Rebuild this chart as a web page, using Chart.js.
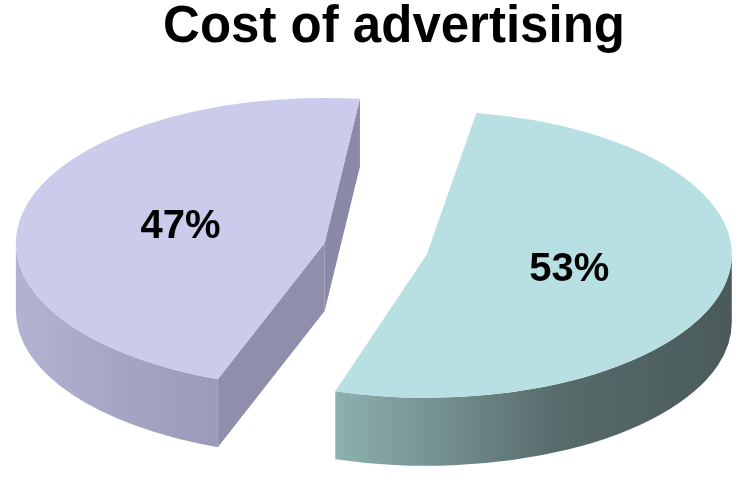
<!DOCTYPE html>
<html>
<head>
<meta charset="utf-8">
<title>Cost of advertising</title>
<script src="https://cdn.jsdelivr.net/npm/chart.js@4.4.1/dist/chart.umd.min.js"></script>
<style>
  html, body { margin: 0; padding: 0; background: #ffffff; }
  #wrap { width: 741px; height: 477px; }
</style>
</head>
<body>
<div id="wrap"><canvas id="myChart" width="741" height="477"></canvas></div>
<script>
// slices, clockwise from the top
const labels = ['Advertising', 'Other costs'];
const shares = [53, 47];

// top faces, outer walls and cut faces of each slice
const topColors = ['#b8dfe1', '#cbcbeb'];
const wallColors = [['#8db1af', '#586c6c', '#4a5a5a'], ['#b2b2d2', '#a4a4c4', '#9a9aba']];
const faceColors = [['#4d5e5e', '#4d5e5e'], ['#8f8fab', '#8a8aa8']];

const TILT = 0.47;   // vertical squash of the pie plane
const DEPTH = 68;    // thickness of the pie
const SHIFT_X = -11; // pie sits a little left of the title

// geometry of an arc as ArcElement.draw lays it out:
// offset is used as offset/4, the radius grows and the angles shrink a little
function arcGeom(arc) {
    const off = (arc.options.offset || 0) / 4;
    const mid = (arc.startAngle + arc.endAngle) / 2;
    const alpha = arc.endAngle - arc.startAngle;
    const radOff = off * (1 - Math.sin(Math.min(Math.PI, alpha)));
    const r = arc.outerRadius + radOff;
    const beta = Math.max(0.001, alpha * r - radOff / Math.PI) / r;
    const trim = (alpha - beta) / 2;
    return {
        x: arc.x + Math.cos(mid) * off,
        y: arc.y + Math.sin(mid) * off,
        r: r,
        a0: arc.startAngle + trim,
        a1: arc.endAngle - trim,
        mid: mid
    };
}

function toScreen(x, y, cy) {
    return [x + SHIFT_X, cy + (y - cy) * TILT];
}

// parts of [a0, a1] that face the viewer (lower half of the ellipse)
function frontRanges(a0, a1) {
    const out = [];
    for (let n = -1; n <= 1; n++) {
        const lo = Math.max(a0, n * 2 * Math.PI);
        const hi = Math.min(a1, n * 2 * Math.PI + Math.PI);
        if (hi > lo) out.push([lo, hi]);
    }
    return out;
}

const pie3d = {
    id: 'pie3d',
    beforeDatasetsDraw: (chart) => {
        const ctx = chart.ctx;
        const arcs = chart.getDatasetMeta(0).data;
        const cy = arcs[0].y;
        // draw from back (left slice) to front
        const order = arcs.map((a, i) => i).reverse();
        ctx.save();
        for (const i of order) {
            const g = arcGeom(arcs[i]);
            const [sx, sy] = toScreen(g.x, g.y, cy);
            const rx = g.r, ry = g.r * TILT;

            // radial cut faces
            const faces = [];
            if (Math.cos(g.a0) < 0) faces.push([g.a0, faceColors[i][0]]);
            if (Math.cos(g.a1) > 0) faces.push([g.a1, faceColors[i][1]]);
            for (const [ang, col] of faces) {
                const ex = sx + rx * Math.cos(ang), ey = sy + ry * Math.sin(ang);
                ctx.beginPath();
                ctx.moveTo(sx, sy);
                ctx.lineTo(ex, ey);
                ctx.lineTo(ex, ey + DEPTH);
                ctx.lineTo(sx, sy + DEPTH);
                ctx.closePath();
                ctx.fillStyle = col;
                ctx.fill();
            }

            // outer wall
            for (const [lo, hi] of frontRanges(g.a0, g.a1)) {
                const xl = sx + rx * Math.cos(hi), xr = sx + rx * Math.cos(lo);
                const grad = ctx.createLinearGradient(xl, 0, xr, 0);
                grad.addColorStop(0, wallColors[i][0]);
                grad.addColorStop(0.55, wallColors[i][1]);
                grad.addColorStop(1, wallColors[i][2]);
                ctx.beginPath();
                ctx.ellipse(sx, sy, rx, ry, 0, lo, hi);
                ctx.ellipse(sx, sy + DEPTH, rx, ry, 0, hi, lo, true);
                ctx.closePath();
                ctx.fillStyle = grad;
                ctx.fill();
            }
        }
        ctx.restore();

        // top faces are drawn by Chart.js in the tilted plane
        ctx.save();
        ctx.translate(SHIFT_X, cy);
        ctx.scale(1, TILT);
        ctx.translate(0, -cy);
    },
    afterDatasetsDraw: (chart) => {
        const ctx = chart.ctx;
        ctx.restore();
        const arcs = chart.getDatasetMeta(0).data;
        const cy = arcs[0].y;
        const total = shares.reduce((s, v) => s + v, 0);
        ctx.save();
        ctx.font = 'bold 40px "Liberation Sans", Arial, sans-serif';
        ctx.fillStyle = '#000000';
        ctx.textAlign = 'center';
        ctx.textBaseline = 'middle';
        arcs.forEach((arc, i) => {
            const g = arcGeom(arc);
            const lx = g.x + Math.cos(g.mid) * g.r * 0.48;
            const ly = g.y + Math.sin(g.mid) * g.r * 0.48;
            const [sx, sy] = toScreen(lx, ly, cy);
            ctx.fillText(Math.round(shares[i] / total * 100) + '%', sx, sy);
        });
        ctx.restore();
    }
};

const ctx = document.getElementById('myChart').getContext('2d');
const myChart = new Chart(ctx, {
    type: 'pie',
    data: {
        labels: labels,
        datasets: [{
            data: shares,
            backgroundColor: topColors,
            borderWidth: 0,
            offset: [180, 240],
            clip: false
        }]
    },
    options: {
        responsive: false,
        animation: false,
        events: [],
        rotation: 8,
        radius: 260,
        layout: {
            padding: { left: 47, right: 0, top: 0, bottom: 44 }
        },
        plugins: {
            legend: { display: false },
            tooltip: { enabled: false },
            title: {
                display: true,
                text: 'Cost of advertising',
                color: '#000000',
                font: { family: '"Liberation Sans", Arial, sans-serif', size: 51, weight: 'bold', lineHeight: 1.1 },
                padding: { top: 0, bottom: 10 }
            }
        }
    },
    plugins: [pie3d]
});
</script>
</body>
</html>
